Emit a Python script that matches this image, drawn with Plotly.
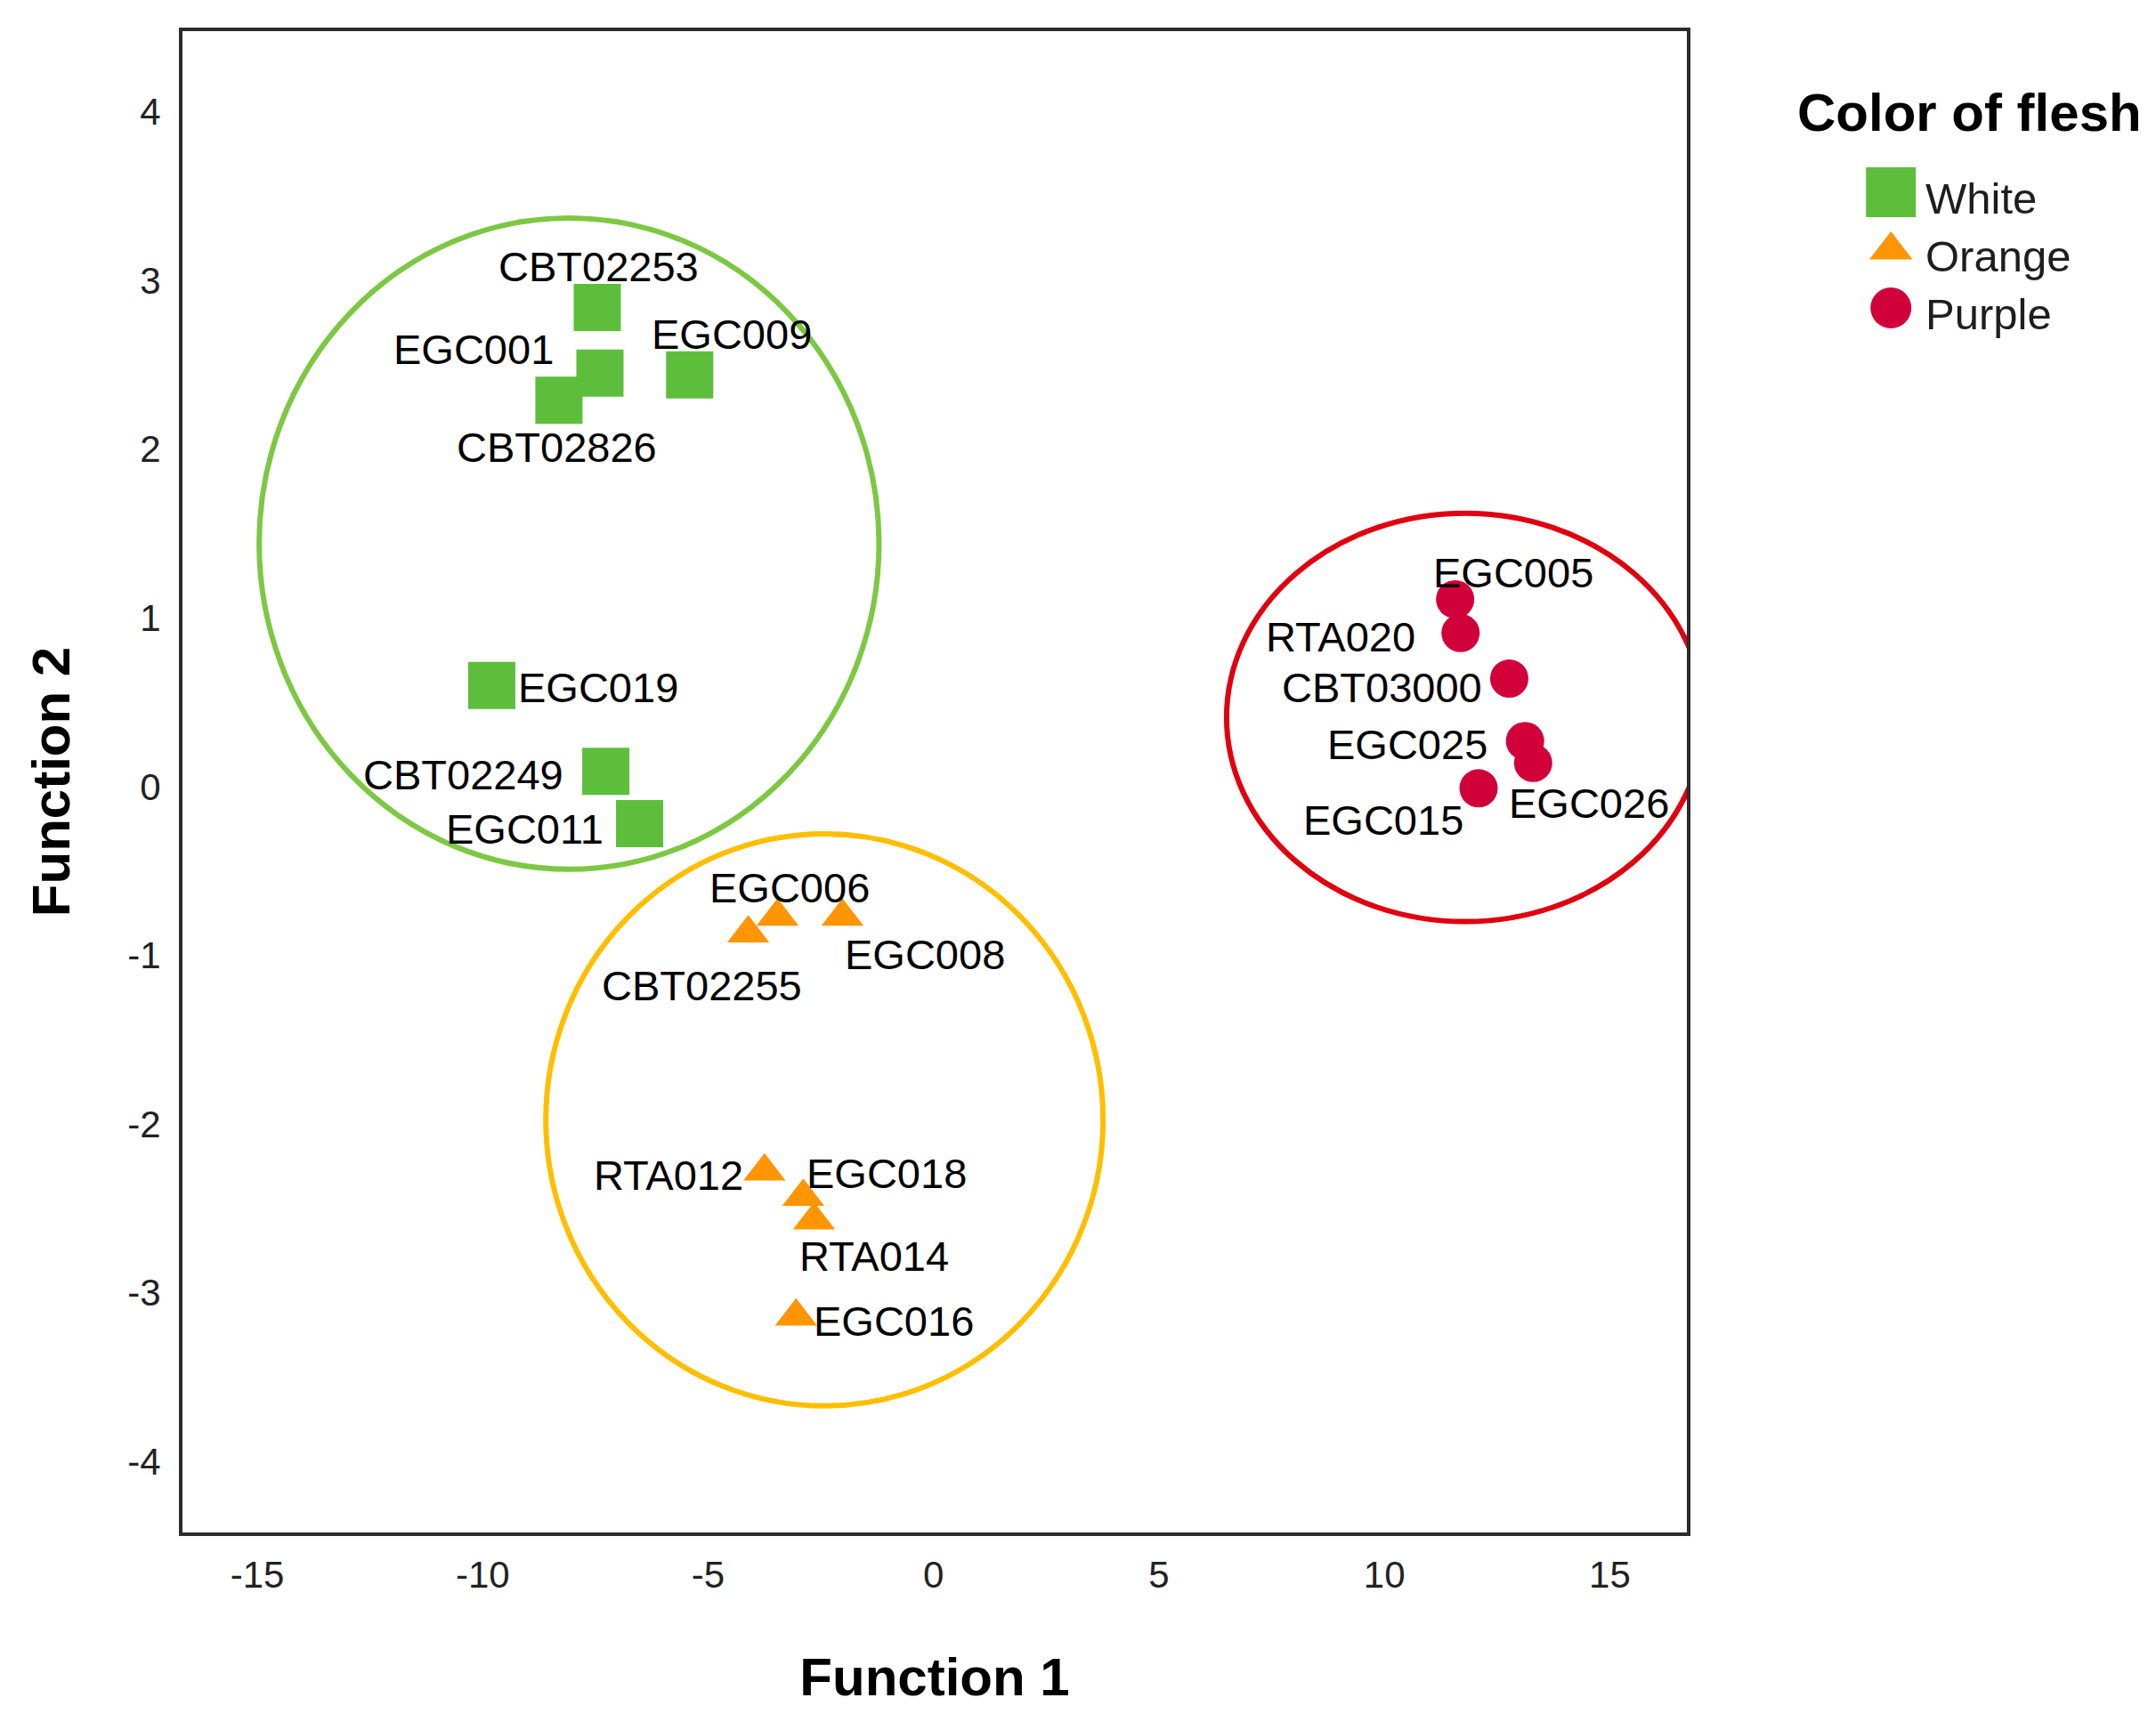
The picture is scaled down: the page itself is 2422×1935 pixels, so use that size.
import plotly.graph_objects as go

# ---------------- data ----------------
categories = ["White", "Orange", "Purple"]

white_names = ["CBT02253", "EGC001", "CBT02826", "EGC009", "EGC019", "CBT02249", "EGC011"]
white_f1 = [-7.46, -7.40, -8.31, -5.41, -9.80, -7.27, -6.52]
white_f2 = [2.84, 2.45, 2.29, 2.44, 0.60, 0.09, -0.22]

orange_names = ["CBT02255", "EGC006", "EGC008", "RTA012", "EGC018", "RTA014", "EGC016"]
orange_f1 = [-4.11, -3.46, -2.02, -3.75, -2.89, -2.65, -3.05]
orange_f2 = [-0.87, -0.77, -0.77, -2.28, -2.43, -2.57, -3.14]

purple_names = ["EGC005", "RTA020", "CBT03000", "EGC025", "EGC026", "EGC015"]
purple_f1 = [11.57, 11.69, 12.77, 13.12, 13.30, 12.09]
purple_f2 = [1.11, 0.91, 0.64, 0.27, 0.14, -0.01]

x_ticks = [-15, -10, -5, 0, 5, 10, 15]
x_tick_labels = ["-15", "-10", "-5", "0", "5", "10", "15"]
y_ticks = [-4, -3, -2, -1, 0, 1, 2, 3, 4]
y_tick_labels = ["-4", "-3", "-2", "-1", "0", "1", "2", "3", "4"]

# ---------------- label placement (data units, text centres) ----------------
white_lab_x = [-7.42, -10.21, -8.35, -4.48, -7.44, -10.44, -9.06]
white_lab_y = [3.08, 2.59, 2.01, 2.68, 0.585, 0.07, -0.25]
orange_lab_x = [-5.14, -3.19, -0.20, -5.87, -1.05, -1.31, -0.88]
orange_lab_y = [-1.18, -0.60, -0.995, -2.30, -2.29, -2.78, -3.17]
purple_lab_x = [12.85, 9.02, 9.95, 10.50, 14.53, 9.98]
purple_lab_y = [1.27, 0.887, 0.585, 0.25, -0.10, -0.197]

# group ellipses (x0, x1, y0, y1)
green_ring = (-14.96, -1.21, -0.49, 3.37)
orange_ring = (-8.60, 3.76, -3.67, -0.28)
red_ring = (6.50, 17.08, -0.80, 1.62)

# ---------------- styles ----------------
C_WHITE = "#5DBE3C"
C_ORANGE = "#FF9500"
C_PURPLE = "#D2003A"
MAIN_FONT = "Liberation Sans, Arial, sans-serif"

fig = go.Figure()

groups = [
    ("White", white_f1, white_f2, white_names, "square", 53, C_WHITE),
    ("Orange", orange_f1, orange_f2, orange_names, "triangle-up", 41, C_ORANGE),
    ("Purple", purple_f1, purple_f2, purple_names, "circle", 43, C_PURPLE),
]
for name, xs, ys, names, sym, size, col in groups:
    fig.add_trace(go.Scatter(
        x=xs, y=ys, mode="markers", name=name, text=names,
        marker=dict(symbol=sym, size=size, color=col, line=dict(width=0)),
        showlegend=False, hovertemplate="%{text}<br>F1=%{x}<br>F2=%{y}<extra></extra>",
    ))

# point labels
for names, lx, ly in [(white_names, white_lab_x, white_lab_y),
                      (orange_names, orange_lab_x, orange_lab_y),
                      (purple_names, purple_lab_x, purple_lab_y)]:
    for n, a, b in zip(names, lx, ly):
        fig.add_annotation(x=a, y=b, xref="x", yref="y", text=n, showarrow=False,
                           xanchor="center", yanchor="middle",
                           font=dict(family=MAIN_FONT, size=47, color="#000000"))

# group rings
for (x0, x1, y0, y1), col in [(green_ring, "#7CC843"), (orange_ring, "#FFBE00"), (red_ring, "#E0000F")]:
    fig.add_shape(type="circle", xref="x", yref="y", x0=x0, x1=x1, y0=y0, y1=y1,
                  line=dict(color=col, width=6), fillcolor="rgba(0,0,0,0)", layer="below")

# custom legend (large symbols) on a small auxiliary subplot
leg_sym = ["square", "triangle-up", "circle"]
leg_size = [56, 42, 46]
leg_col = [C_WHITE, C_ORANGE, C_PURPLE]
for cat, s, sz, c in zip(categories, leg_sym, leg_size, leg_col):
    fig.add_trace(go.Scatter(x=[0.107], y=[cat], xaxis="x2", yaxis="y2", mode="markers",
                             marker=dict(symbol=s, size=sz, color=c, line=dict(width=0)),
                             name=cat, showlegend=False, hoverinfo="skip"))
for cat in categories:
    fig.add_annotation(x=0.221, y=cat, xref="x2", yref="y2", text=cat, showarrow=False,
                       xanchor="left", yanchor="middle", yshift=-7,
                       font=dict(family=MAIN_FONT, size=49, color="#1e1e1e"))
fig.add_annotation(xref="paper", yref="paper", x=0.8203, y=0.946, xanchor="left", yanchor="middle",
                   text="Color of flesh", showarrow=False,
                   font=dict(family=MAIN_FONT, size=60, color="#000000", weight="bold"))

axis_common = dict(showline=True, mirror=True, linecolor="#2b2b2b", linewidth=4,
                   showgrid=False, zeroline=False, ticks="",
                   tickfont=dict(family=MAIN_FONT, size=42, color="#222222"))

fig.update_layout(
    width=2406, height=1919,
    paper_bgcolor="white", plot_bgcolor="white",
    margin=dict(l=197, r=0, t=27, b=205),
    showlegend=False,
    xaxis=dict(domain=[0, 0.76505], range=[-16.66, 16.71], tickvals=x_ticks, ticktext=x_tick_labels,
               ticklabelstandoff=8,
               title=dict(text="Function 1", standoff=72,
                          font=dict(family=MAIN_FONT, size=60, color="#000000", weight="bold")),
               **axis_common),
    yaxis=dict(range=[-4.42, 4.477], tickvals=y_ticks, ticktext=y_tick_labels, ticklabelstandoff=12,
               title=dict(text="Function 2", standoff=46,
                          font=dict(family=MAIN_FONT, size=60, color="#000000", weight="bold")),
               **axis_common),
    xaxis2=dict(domain=[0.8531, 1.0], range=[0, 1], visible=False, fixedrange=True, anchor="y2"),
    yaxis2=dict(domain=[0.7964, 0.912], type="category", categoryorder="array",
                categoryarray=categories, range=[2.5, -0.5], visible=False, fixedrange=True,
                anchor="x2"),
)

fig.write_html("out.html")
